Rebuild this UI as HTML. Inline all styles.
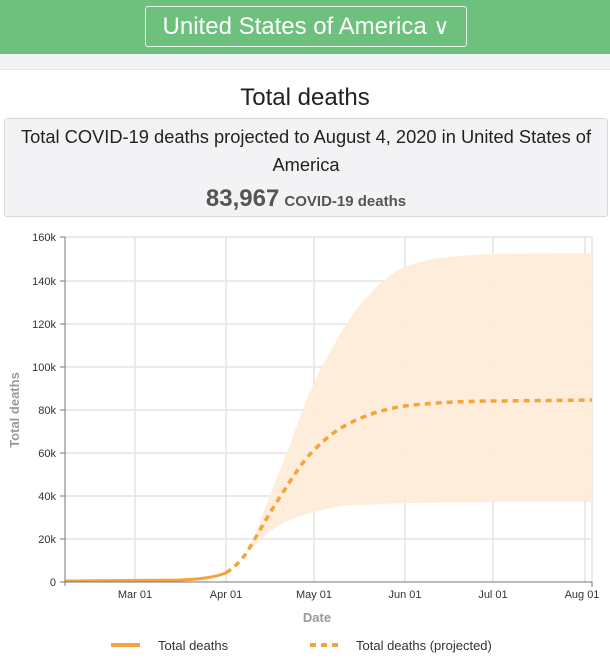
<!DOCTYPE html>
<html><head><meta charset="utf-8"><style>
body{margin:0;width:610px;height:659px;overflow:hidden;background:#fff;font-family:"Liberation Sans",Arial,sans-serif;position:relative}
.hdr{position:absolute;left:0;top:0;width:610px;height:54px;background:#6dc17d}
.btn{position:absolute;left:145px;top:6px;width:322px;height:41px;border:1px solid #e8f5ea;border-radius:3px;color:#fff;font-size:24px;line-height:40px;text-align:center;box-sizing:border-box}
.gray{position:absolute;left:0;top:54px;width:610px;height:15px;background:#f2f2f5;border-bottom:1px solid #e4e4e8}
.title{position:absolute;left:0;width:610px;top:84px;text-align:center;font-size:24px;color:#222}
.box{position:absolute;left:4px;top:118px;width:604px;height:99px;box-sizing:border-box;background:#f3f3f6;border:1px solid #d8d8dc;border-radius:3px;text-align:center;color:#222;font-size:18.3px}
</style></head><body>
<div class="hdr"><div class="btn">United States of America <span style="font-size:22px">&#x2228;</span></div></div>
<div class="gray"></div>
<div class="title">Total deaths</div>
<div class="box">
<div style="position:absolute;top:7px;width:100%">Total COVID-19 deaths projected to August 4, 2020 in United States of</div>
<div style="position:absolute;top:35px;width:100%">America</div>
<div style="position:absolute;top:66px;width:100%;color:#555;font-weight:bold"><span style="font-size:24px">83,967</span> <span style="font-size:15px">COVID-19 deaths</span></div>
</div>
<svg width="610" height="659" style="position:absolute;left:0;top:0" font-family="Liberation Sans,Arial,sans-serif">
<g stroke="#e3e3e3" stroke-width="1.5">
<line x1="65" x2="592" y1="237" y2="237"/><line x1="65" x2="592" y1="281" y2="281"/><line x1="65" x2="592" y1="324" y2="324"/><line x1="65" x2="592" y1="367" y2="367"/><line x1="65" x2="592" y1="410" y2="410"/><line x1="65" x2="592" y1="453" y2="453"/><line x1="65" x2="592" y1="496" y2="496"/><line x1="65" x2="592" y1="539" y2="539"/>
<line x1="135" x2="135" y1="237" y2="582"/><line x1="226" x2="226" y1="237" y2="582"/><line x1="314" x2="314" y1="237" y2="582"/><line x1="405" x2="405" y1="237" y2="582"/><line x1="493" x2="493" y1="237" y2="582"/><line x1="585" x2="585" y1="237" y2="582"/><line x1="592" x2="592" y1="237" y2="582"/>
</g>
<path d="M226,574 C235,568 243,558 250,545 C258,530 262,515 267,503 C280,470 290,445 300,417 C312,385 322,365 333,347 C345,325 355,310 367,297 C380,283 392,272 405,267 C420,261 435,258 450,257 C470,255 485,254 500,254 L592,253 L592,502 L500,502 L405,503 C380,504 365,505 350,505 C335,507 325,509 314,512 C300,516 292,519 283,523 C270,530 260,540 250,550 C240,560 232,568 226,574 Z" fill="#fdebd6" opacity="0.9"/>
<path d="M65,581 L180,580 C200,579 212,578 226,573" fill="none" stroke="#f5a43a" stroke-width="3"/>
<path d="M226,573 C236,566 244,558 250,547 C262,527 270,512 280,497 C292,478 302,462 314,450 C326,438 336,430 350,423 C368,414 385,409 405,406 C430,403 460,401 500,401 L592,400" fill="none" stroke="#f5a43a" stroke-width="3.5" stroke-dasharray="6,5"/>
<g stroke="#777" stroke-width="1"><line x1="65" x2="65" y1="237" y2="586"/><line x1="60" x2="592" y1="582" y2="582"/>
<line x1="60" x2="65" y1="237" y2="237"/><line x1="60" x2="65" y1="281" y2="281"/><line x1="60" x2="65" y1="324" y2="324"/><line x1="60" x2="65" y1="367" y2="367"/><line x1="60" x2="65" y1="410" y2="410"/><line x1="60" x2="65" y1="453" y2="453"/><line x1="60" x2="65" y1="496" y2="496"/><line x1="60" x2="65" y1="539" y2="539"/><line x1="592" x2="592" y1="582" y2="587"/></g>
<g font-size="11" fill="#333" text-anchor="end">
<text x="56" y="241">160k</text><text x="56" y="285">140k</text><text x="56" y="328">120k</text><text x="56" y="371">100k</text><text x="56" y="414">80k</text><text x="56" y="457">60k</text><text x="56" y="500">40k</text><text x="56" y="543">20k</text><text x="56" y="586">0</text></g>
<g font-size="11" fill="#333" text-anchor="middle">
<text x="135" y="598">Mar 01</text><text x="226" y="598">Apr 01</text><text x="314" y="598">May 01</text><text x="405" y="598">Jun 01</text><text x="493" y="598">Jul 01</text><text x="582" y="598">Aug 01</text></g>
<text x="317" y="622" font-size="13" font-weight="bold" fill="#999" text-anchor="middle">Date</text>
<text transform="translate(19,410) rotate(-90)" font-size="13" font-weight="bold" fill="#999" text-anchor="middle">Total deaths</text>
<line x1="111" x2="140" y1="645" y2="645" stroke="#f5a43a" stroke-width="4"/>
<text x="158" y="650" font-size="13" fill="#333">Total deaths</text>
<line x1="310" x2="340" y1="645" y2="645" stroke="#f5a43a" stroke-width="4" stroke-dasharray="6,5"/>
<text x="356" y="650" font-size="13" fill="#333">Total deaths (projected)</text>
</svg>
</body></html>
